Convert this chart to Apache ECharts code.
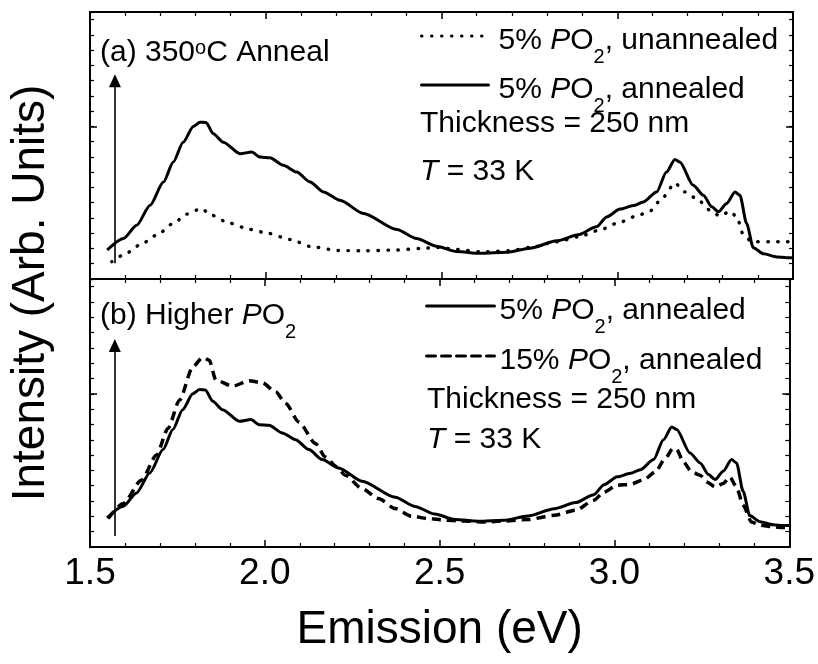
<!DOCTYPE html>
<html>
<head>
<meta charset="utf-8">
<script src="https://cdn.jsdelivr.net/npm/echarts@6/dist/echarts.min.js"></script>
<style>
  html, body { margin: 0; padding: 0; background: #fff; }
  #chart { width: 818px; height: 664px; }
</style>
</head>
<body>
<div id="chart"></div>
<script>
const FONT = '"Liberation Sans", Arial, Helvetica, sans-serif';

// Emission energy axis (eV)
const energyTicks = [1.5, 2.0, 2.5, 3.0, 3.5];

// 5% PO2, annealed (used in both panels)
const annealedEnergy = [1.549, 1.595, 1.633, 1.671, 1.709, 1.737, 1.765, 1.794, 1.813, 1.830, 1.851, 1.879, 1.927, 1.960, 1.984, 2.012, 2.050, 2.088, 2.126, 2.164, 2.211, 2.278, 2.373, 2.429, 2.486, 2.543, 2.610, 2.685, 2.752, 2.828, 2.889, 2.941, 2.970, 3.008, 3.046, 3.074, 3.112, 3.140, 3.164, 3.178, 3.216, 3.245, 3.269, 3.288, 3.311, 3.335, 3.349, 3.368, 3.387, 3.416, 3.454, 3.482, 3.500];
const annealedIntensity = [1.90, 2.66, 3.53, 4.84, 6.36, 7.67, 8.97, 10.00, 10.28, 10.26, 9.52, 8.97, 8.21, 8.32, 7.99, 7.95, 7.45, 7.01, 6.36, 5.71, 5.16, 4.30, 3.25, 2.65, 2.15, 1.80, 1.68, 1.75, 2.02, 2.50, 2.90, 3.42, 4.07, 4.58, 4.81, 5.05, 5.71, 7.01, 7.84, 7.67, 6.14, 5.49, 4.73, 4.40, 4.95, 5.71, 5.49, 3.64, 2.05, 1.65, 1.45, 1.40, 1.40];

// 5% PO2, unannealed
const unannealedEnergy = [1.562, 1.595, 1.642, 1.690, 1.737, 1.775, 1.816, 1.846, 1.894, 1.955, 2.007, 2.069, 2.131, 2.206, 2.278, 2.373, 2.439, 2.486, 2.543, 2.610, 2.695, 2.752, 2.828, 2.889, 2.950, 2.998, 3.055, 3.093, 3.131, 3.164, 3.192, 3.226, 3.264, 3.292, 3.321, 3.340, 3.359, 3.383, 3.434, 3.482, 3.500];
const unannealedIntensity = [1.13, 1.57, 2.22, 2.88, 3.64, 4.25, 4.62, 4.18, 3.68, 3.25, 2.99, 2.59, 2.11, 1.87, 1.85, 1.90, 2.00, 2.07, 1.94, 1.78, 1.85, 2.07, 2.44, 2.76, 3.20, 3.64, 4.12, 4.46, 5.38, 6.29, 5.71, 5.27, 4.51, 4.12, 4.44, 4.07, 2.88, 2.44, 2.44, 2.44, 2.44];

// 15% PO2, annealed
const highPO2Energy = [1.552, 1.595, 1.647, 1.690, 1.723, 1.756, 1.794, 1.822, 1.841, 1.860, 1.908, 1.955, 1.993, 2.031, 2.060, 2.097, 2.145, 2.173, 2.206, 2.230, 2.278, 2.325, 2.373, 2.420, 2.467, 2.515, 2.562, 2.628, 2.685, 2.752, 2.828, 2.889, 2.941, 2.970, 3.008, 3.046, 3.084, 3.117, 3.145, 3.167, 3.178, 3.197, 3.221, 3.245, 3.264, 3.288, 3.311, 3.330, 3.349, 3.368, 3.392, 3.416, 3.454, 3.482, 3.500];
const highPO2Intensity = [1.86, 2.84, 4.36, 5.99, 7.74, 9.59, 11.76, 12.38, 12.20, 10.90, 10.50, 10.85, 10.72, 10.13, 9.37, 8.17, 6.76, 5.88, 5.23, 4.69, 3.82, 3.16, 2.51, 2.01, 1.86, 1.75, 1.70, 1.63, 1.70, 1.79, 2.07, 2.40, 3.05, 3.59, 4.03, 4.10, 4.40, 4.90, 5.78, 6.43, 6.37, 5.56, 4.90, 4.69, 4.25, 3.92, 4.14, 4.58, 3.92, 2.73, 1.63, 1.42, 1.31, 1.27, 1.25];

// Intensity arrows drawn inside each panel: [energy, from, to]
const arrowPanelA = [1.571, 1.03, 13.0];
const arrowPanelB = [1.571, 0.72, 13.16];

const intensityMax = 17.5;

const zip = (xs, ys) => xs.map((x, i) => [x, ys[i]]);

// Rich-text styles: upright, italic, subscript and superscript
const base = { fontFamily: FONT, color: '#000', fontWeight: 'normal', verticalAlign: 'top' };
const RICH = {
  f: Object.assign({}, base, { fontSize: 30, lineHeight: 36, padding: [8, 0, 4, 5] }),
  t: Object.assign({}, base, { fontSize: 30, lineHeight: 36, padding: [8, 0, 4, 0] }),
  i: Object.assign({}, base, { fontSize: 30, lineHeight: 36, padding: [8, 0, 4, 0], fontStyle: 'italic' }),
  s: Object.assign({}, base, { fontSize: 20, lineHeight: 19, padding: [29, 0, 0, 0] }),
  u: Object.assign({}, base, { fontSize: 20, lineHeight: 19, padding: [8, 0, 21, 0] })
};
const richText = { fontFamily: FONT, fontSize: 30, color: '#000', fontWeight: 'normal', rich: RICH };

const legendText = {
  'a-unannealed': '{f|5% }{i|P}{t|O}{s|2}{t|, unannealed}',
  'a-annealed': '{f|5% }{i|P}{t|O}{s|2}{t|, annealed}',
  'b-annealed': '{t|5% }{i|P}{t|O}{s|2}{t|, annealed}',
  'b-high': '{t|15% }{i|P}{t|O}{s|2}{t|, annealed}'
};

function xAxis(grid, position, withLabels) {
  const ax = {
    type: 'value', gridIndex: grid, position: position,
    min: energyTicks[0], max: energyTicks[energyTicks.length - 1],
    interval: energyTicks[1] - energyTicks[0],
    axisLine: { show: true, onZero: false, lineStyle: { color: '#000', width: 1.8 } },
    axisTick: { show: true, inside: true, length: 7, lineStyle: { color: '#000', width: 1.5 } },
    minorTick: { show: true, splitNumber: 5, length: 4, lineStyle: { color: '#000', width: 1.2 } },
    splitLine: { show: false }, minorSplitLine: { show: false },
    axisLabel: { show: false }
  };
  if (withLabels) {
    ax.axisLabel = { show: true, fontFamily: FONT, fontSize: 37, color: '#000', margin: 8,
      formatter: v => v.toFixed(1) };
    ax.name = 'Emission (eV)';
    ax.nameLocation = 'middle';
    ax.nameGap = 60;
    ax.nameTextStyle = { fontFamily: FONT, fontSize: 46, color: '#000' };
  }
  return ax;
}

function yAxis(grid, position, step, len) {
  return {
    type: 'value', gridIndex: grid, position: position,
    min: 0, max: intensityMax, interval: step,
    axisLine: { show: true, onZero: false, lineStyle: { color: '#000', width: 1.8 } },
    axisTick: { show: true, inside: true, length: len, lineStyle: { color: '#000', width: len > 5 ? 1.5 : 1.2 } },
    axisLabel: { show: false }, splitLine: { show: false }
  };
}

function arrow(a) {
  return {
    silent: true, animation: false,
    symbol: ['none', 'triangle'], symbolSize: [12, 13],
    label: { show: false },
    itemStyle: { color: '#000' },
    lineStyle: { color: '#000', width: 1.6, type: 'solid' },
    emphasis: { disabled: true },
    data: [[{ coord: [a[0], a[1]] }, { coord: [a[0], a[2]] }]]
  };
}

const baseLine = { type: 'line', symbol: 'none', showSymbol: false, silent: true,
  smooth: 0.25, smoothMonotone: 'x', emphasis: { disabled: true },
  itemStyle: { color: '#000' } };

function legend(left, top, width, gap, names) {
  return {
    left: left, top: top, orient: 'vertical', padding: 0, itemGap: gap,
    itemWidth: width, itemHeight: 14, selectedMode: false, data: names,
    itemStyle: { opacity: 0 },
    lineStyle: { width: 3, cap: 'round' },
    formatter: n => legendText[n], textStyle: richText
  };
}

const option = {
  animation: false,
  backgroundColor: '#fff',
  color: ['#000'],
  grid: [
    { left: 90, top: 12, width: 703, height: 267 },
    { left: 90, top: 279, width: 703, height: 268 }
  ],
  xAxis: [xAxis(0, 'bottom', false), xAxis(0, 'top', false), xAxis(1, 'bottom', true), xAxis(1, 'top', false)],
  yAxis: [
    yAxis(0, 'left', 1, 4), yAxis(0, 'left', 10, 7), yAxis(0, 'right', 1, 4), yAxis(0, 'right', 10, 7),
    yAxis(1, 'left', 1, 4), yAxis(1, 'left', 10, 7), yAxis(1, 'right', 1, 4), yAxis(1, 'right', 10, 7)
  ],
  legend: [
    legend(420, 18, 67, 0, ['a-unannealed', 'a-annealed']),
    legend(425, 288, 68, 1, ['b-annealed', 'b-high'])
  ],
  title: [
    { text: '{t|(a) 350}{u|o}{t|C Anneal}', left: 100, top: 30, padding: 0, textStyle: richText },
    { text: '{t|Thickness = 250 nm}', left: 420, top: 101, padding: 0, textStyle: richText },
    { text: '{i|T}{t| = 33 K}', left: 420, top: 149, padding: 0, textStyle: richText },
    { text: '{t|(b) Higher }{i|P}{t|O}{s|2}', left: 100, top: 293, padding: 0, textStyle: richText },
    { text: '{t|Thickness = 250 nm}', left: 427, top: 377, padding: 0, textStyle: richText },
    { text: '{i|T}{t| = 33 K}', left: 427, top: 417, padding: 0, textStyle: richText }
  ],
  graphic: [{
    type: 'text', x: 31, y: 293, rotation: Math.PI / 2, silent: true,
    style: { text: 'Intensity (Arb. Units)', font: '46px ' + FONT, fill: '#000', align: 'center', verticalAlign: 'middle' }
  }],
  series: [
    Object.assign({}, baseLine, {
      name: 'a-unannealed', xAxisIndex: 0, yAxisIndex: 0,
      data: zip(unannealedEnergy, unannealedIntensity),
      lineStyle: { color: '#000', width: 3.4, type: [0.5, 9.5], cap: 'round' }, z: 3
    }),
    Object.assign({}, baseLine, {
      name: 'a-annealed', xAxisIndex: 0, yAxisIndex: 0,
      data: zip(annealedEnergy, annealedIntensity),
      lineStyle: { color: '#000', width: 3, type: 'solid', join: 'round' }, z: 4,
      markLine: arrow(arrowPanelA)
    }),
    Object.assign({}, baseLine, {
      name: 'b-annealed', xAxisIndex: 2, yAxisIndex: 4,
      data: zip(annealedEnergy, annealedIntensity),
      lineStyle: { color: '#000', width: 3, type: 'solid', join: 'round' }, z: 4,
      markLine: arrow(arrowPanelB)
    }),
    Object.assign({}, baseLine, {
      name: 'b-high', xAxisIndex: 2, yAxisIndex: 4,
      data: zip(highPO2Energy, highPO2Intensity),
      lineStyle: { color: '#000', width: 3.5, type: [9, 6] }, z: 3
    })
  ]
};

const chart = echarts.init(document.getElementById('chart'), null, { renderer: 'canvas' });
chart.setOption(option);
</script>
</body>
</html>
